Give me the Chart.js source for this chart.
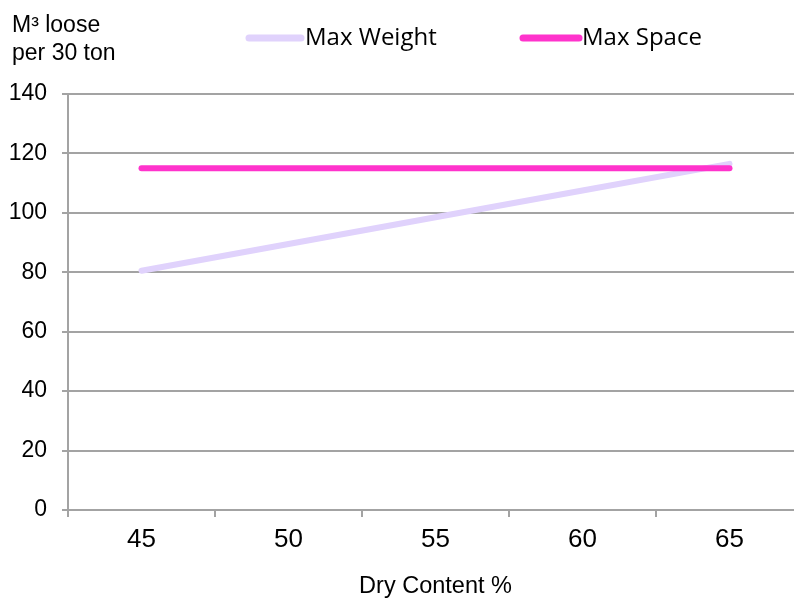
<!DOCTYPE html>
<html>
<head>
<meta charset="utf-8">
<script src="https://cdn.jsdelivr.net/npm/chart.js@4.4.1/dist/chart.umd.min.js"></script>
<style>
  html, body { margin: 0; padding: 0; background: #fff; overflow: hidden; }
  #wrap { width: 803px; height: 603px; position: relative; }
</style>
</head>
<body>
<div id="wrap"><canvas id="c" width="803" height="603"></canvas></div>
<script>
// Dry content categories (%)
const categories = ['45', '50', '55', '60', '65'];
// Volume (m³ loose) per 30 ton load
const maxWeight = [80.5, 89.5, 98.5, 107.5, 116.5];
const maxSpace = [115, 115, 115, 115, 115];
// Y axis range
const yMin = 0, yMax = 140, yStep = 20;

const FONT = '"Liberation Sans", Arial, sans-serif';
const LEGEND_FONT = '"Open Sans", "Noto Sans", sans-serif';
const GRID = '#a3a3a3';

// Horizontal y-axis caption and line legend, drawn above the plot
const headerPlugin = {
  id: 'header',
  afterDraw(chart) {
    const ctx = chart.ctx;
    ctx.save();
    ctx.fillStyle = '#000';
    ctx.textBaseline = 'alphabetic';
    ctx.textAlign = 'left';
    ctx.font = '23px ' + FONT;
    ctx.fillText('M³ loose', 12, 31.5);
    ctx.fillText('per 30 ton', 12, 60);

    const items = [
      { ds: chart.data.datasets[1], x0: 249, x1: 301, tx: 305 },
      { ds: chart.data.datasets[0], x0: 523, x1: 579, tx: 582 }
    ];
    ctx.font = '24px ' + LEGEND_FONT;
    ctx.textBaseline = 'middle';
    items.forEach(it => {
      ctx.strokeStyle = it.ds.borderColor;
      ctx.lineWidth = 7;
      ctx.lineCap = 'round';
      ctx.beginPath();
      ctx.moveTo(it.x0, 38);
      ctx.lineTo(it.x1, 38);
      ctx.stroke();
      ctx.fillStyle = '#000';
      ctx.fillText(it.ds.label, it.tx, 38);
    });
    ctx.restore();
  }
};

new Chart(document.getElementById('c'), {
  type: 'line',
  data: {
    labels: categories,
    datasets: [
      {
        label: 'Max Space',
        data: maxSpace,
        borderColor: '#ff33cc',
        backgroundColor: '#ff33cc',
        borderWidth: 6,
        borderCapStyle: 'round',
        pointRadius: 0,
        order: 0
      },
      {
        label: 'Max Weight',
        data: maxWeight,
        borderColor: '#e0d2fc',
        backgroundColor: '#e0d2fc',
        borderWidth: 6,
        borderCapStyle: 'round',
        pointRadius: 0,
        order: 1
      }
    ]
  },
  options: {
    responsive: false,
    animation: false,
    events: [],
    layout: { padding: { top: 94, left: 0, right: 0, bottom: 0 } },
    plugins: {
      legend: { display: false },
      tooltip: { enabled: false }
    },
    scales: {
      x: {
        type: 'category',
        offset: true,
        grid: {
          offset: true,
          drawOnChartArea: false,
          drawTicks: true,
          tickLength: 7,
          color: GRID,
          lineWidth: 2
        },
        border: { color: GRID, width: 2 },
        ticks: {
          color: '#000',
          font: { family: FONT, size: 26 },
          padding: 7,
          maxRotation: 0
        },
        title: {
          display: true,
          text: 'Dry Content %',
          color: '#000',
          font: { family: FONT, size: 23.5 },
          padding: { top: 0, bottom: 2 }
        },
        afterFit(scale) { scale.height = 93; }
      },
      y: {
        min: yMin,
        max: yMax,
        ticks: {
          stepSize: yStep,
          color: '#000',
          font: { family: FONT, size: 23 },
          padding: 15
        },
        grid: {
          color: GRID,
          lineWidth: 2,
          drawTicks: true,
          tickLength: 6
        },
        border: { color: GRID, width: 2 },
        afterFit(scale) { scale.width = 68; }
      }
    }
  },
  plugins: [headerPlugin]
});
</script>
</body>
</html>
